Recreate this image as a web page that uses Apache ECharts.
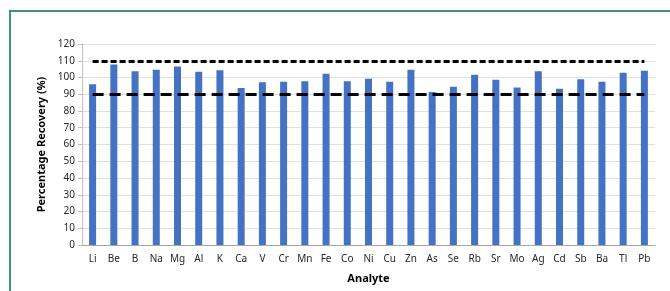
<!DOCTYPE html>
<html>
<head>
<meta charset="utf-8">
<script src="https://cdn.jsdelivr.net/npm/echarts@6/dist/echarts.min.js"></script>
<style>
  html, body { margin: 0; padding: 0; background: #fff; }
  #frame {
    position: absolute; left: 9px; top: 10px; width: 700px; height: 320px;
    border-left: 2px solid #3f9474; border-top: 2px solid #3f9474;
  }
  #chart { position: absolute; left: 0; top: 0; width: 670px; height: 291px; }
</style>
</head>
<body>
<div id="frame"></div>
<div id="chart"></div>
<script>
// analytes on the x axis
const analytes = ["Li", "Be", "B", "Na", "Mg", "Al", "K", "Ca", "V", "Cr", "Mn", "Fe", "Co", "Ni",
  "Cu", "Zn", "As", "Se", "Rb", "Sr", "Mo", "Ag", "Cd", "Sb", "Ba", "Tl", "Pb"];

// recovery in %
const recovery = [95.9, 107.8, 103.7, 104.6, 106.6, 103.5, 104.4, 93.7, 97.1, 97.5, 97.7, 102.3, 97.7, 99.3,
  97.5, 104.6, 91.3, 94.5, 101.7, 98.7, 94.1, 103.7, 93.3, 98.9, 97.5, 102.9, 104.1];

// acceptance limits
const upperLimit = 110;
const lowerLimit = 90;

const yTicks = { min: 0, max: 120, step: 10 };

let myChart = echarts.init(document.getElementById("chart"));

let option = {
  animation: false,
  textStyle: { fontFamily: "Noto Sans" },
  grid: { left: 82, right: 15, top: 44, bottom: 46 },
  xAxis: {
    type: "category",
    data: analytes,
    name: "Analyte",
    nameLocation: "middle",
    nameGap: 28,
    nameTextStyle: { fontSize: 11, fontWeight: "bold", color: "#000" },
    axisLine: { lineStyle: { color: "#a6a6a6", width: 1 } },
    axisTick: { show: false },
    axisLabel: { fontSize: 10, color: "#262626", margin: 9, interval: 0 },
  },
  yAxis: {
    type: "value",
    min: yTicks.min,
    max: yTicks.max,
    interval: yTicks.step,
    name: "Percentage Recovery (%)",
    nameLocation: "middle",
    nameGap: 35,
    nameTextStyle: { fontSize: 11, fontWeight: "bold", color: "#000" },
    axisLine: { show: true, lineStyle: { color: "#bfbfbf" } },
    axisTick: { show: true, length: 4, lineStyle: { color: "#bfbfbf" } },
    axisLabel: { fontSize: 10, color: "#262626", margin: 7 },
    splitLine: { lineStyle: { color: "#e0e0e0" } },
  },
  series: [
    {
      type: "bar",
      name: "Recovery",
      data: recovery,
      barWidth: 7,
      itemStyle: { color: "#4472c4" },
      markLine: {
        symbol: "none",
        silent: true,
        label: { show: false },
        data: [
          [
            { coord: [analytes[0], upperLimit], lineStyle: { color: "#000", width: 3, type: [6, 3] } },
            { coord: [analytes[analytes.length - 1], upperLimit] },
          ],
          [
            { coord: [analytes[0], lowerLimit], lineStyle: { color: "#000", width: 3, type: [11, 6] } },
            { coord: [analytes[analytes.length - 1], lowerLimit] },
          ],
        ],
      },
    },
  ],
};

myChart.setOption(option);
</script>
</body>
</html>
